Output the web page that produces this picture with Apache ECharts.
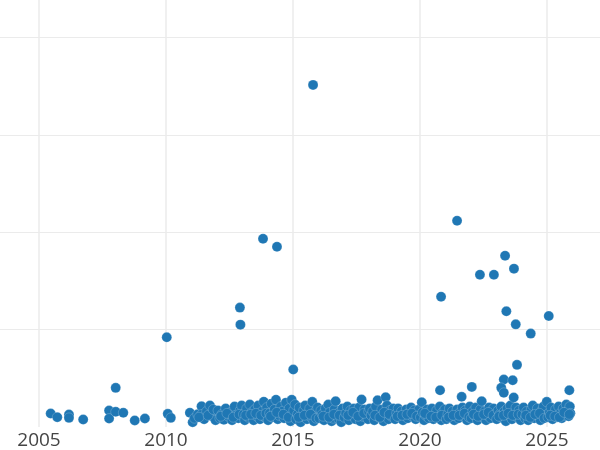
<!DOCTYPE html>
<html><head><meta charset="utf-8">
<script src="https://cdn.jsdelivr.net/npm/echarts@6/dist/echarts.min.js"></script>
<style>html,body{margin:0;padding:0;background:#fff}#c{width:600px;height:450px}</style>
</head><body><div id="c"></div>
<script>
// x ticks (years) and y gridline values (labels hidden in reference)
const xTicks = [2005, 2010, 2015, 2020, 2025];
const yGrid = [100, 200, 300, 400];

// early sparse points [year, value]
const earlyPoints = [[2005.46,13.8],[2005.72,10.1],[2006.18,12.8],[2006.18,9.4],[2006.74,7.7],[2007.76,16.9],[2007.76,8.7],[2008.02,15.6],[2008.32,14.6],[2008.77,6.7],[2009.17,8.7],[2010.07,13.5],[2010.19,9.4],[2010.94,14.6]];

// high outliers [year, value]
const outlierPoints = [[2015.79,351.3],[2021.46,211.8],[2013.82,193.3],[2014.37,185.1],[2023.35,175.9],[2022.36,156.4],[2022.91,156.4],[2023.70,162.6],[2020.83,133.8],[2012.91,122.6],[2012.93,105.1],[2010.03,92.1],[2015.01,59.0],[2023.40,118.8],[2023.77,105.4],[2025.07,114.0],[2024.36,95.9],[2023.82,63.8],[2023.30,48.7],[2023.65,48.0],[2023.20,40.2],[2023.30,35.1],[2020.79,37.7],[2022.04,41.2],[2025.88,37.7],[2021.64,31.0],[2008.02,40.2]];

// dense band 2011-2026 [year, value]
const band2011 = [[2011.05,4.9],[2011.12,9],[2011.25,13],[2011.40,21.3],[2011.40,12.8],[2011.5,8],[2011.6,16],[2011.73,22.1],[2011.8,11],[2011.93,15],[2011.95,7],[2011.3,10],[2011.66,12],[2011.86,18]];
const band2012 = [[2012.05,17],[2012.12,9],[2012.2,13],[2012.28,7.5],[2012.35,19],[2012.45,11],[2012.55,15],[2012.6,7],[2012.7,21],[2012.75,12],[2012.85,9],[2012.92,17],[2012.98,22],[2012.16,11],[2012.4,14],[2012.65,10],[2012.88,13]];
const band2013 = [[2013.05,13],[2013.1,7],[2013.18,19],[2013.25,10],[2013.3,23],[2013.38,15],[2013.45,7],[2013.5,18],[2013.58,11],[2013.63,22],[2013.7,8],[2013.78,16],[2013.85,26],[2013.9,10],[2013.97,20],[2013.14,12],[2013.34,13],[2013.54,14],[2013.74,12],[2013.94,14]];
const band2014 = [[2014.02,7],[2014.08,14],[2014.15,24],[2014.2,10],[2014.27,18],[2014.33,28],[2014.4,8],[2014.45,12],[2014.52,21],[2014.58,16],[2014.65,9],[2014.72,25],[2014.78,13],[2014.85,19],[2014.9,6],[2014.95,28],[2014.98,11],[2014.12,11],[2014.36,15],[2014.62,13],[2014.82,10]];
const band2015 = [[2015.03,17],[2015.08,23],[2015.12,8],[2015.18,13],[2015.25,20],[2015.3,5],[2015.36,11],[2015.42,17],[2015.48,22],[2015.55,8],[2015.6,14],[2015.66,19],[2015.72,10],[2015.76,25.8],[2015.82,6],[2015.88,16],[2015.93,12],[2015.97,20],[2015.22,10],[2015.45,12],[2015.69,13],[2015.91,9]];
const band2016 = [[2016.03,9],[2016.1,17],[2016.15,13],[2016.22,7],[2016.28,19],[2016.35,11],[2016.39,23],[2016.45,15],[2016.52,6],[2016.58,9],[2016.63,18],[2016.68,26.5],[2016.73,12],[2016.8,8],[2016.86,16],[2016.9,5],[2016.95,19],[2016.19,11],[2016.42,10],[2016.61,13],[2016.83,12]];
const band2017 = [[2017.02,10],[2017.08,14],[2017.14,21],[2017.2,7],[2017.27,17],[2017.33,12],[2017.4,19],[2017.46,8],[2017.52,15],[2017.6,20],[2017.65,6],[2017.7,28.2],[2017.75,11],[2017.82,18],[2017.88,13],[2017.95,8],[2017.17,12],[2017.36,15],[2017.56,11],[2017.79,14],[2017.98,16]];
const band2018 = [[2018.02,19],[2018.08,12],[2018.14,16],[2018.2,7],[2018.26,21],[2018.33,27.5],[2018.38,10],[2018.45,14],[2018.5,18],[2018.56,6],[2018.62,13],[2018.65,30.6],[2018.7,22],[2018.76,8],[2018.82,17],[2018.88,11],[2018.95,19],[2018.23,12],[2018.42,10],[2018.59,15],[2018.79,13]];
const band2019 = [[2019.02,8],[2019.08,14],[2019.14,19],[2019.2,10],[2019.27,16],[2019.33,7],[2019.4,13],[2019.46,18],[2019.52,9],[2019.58,15],[2019.65,20],[2019.7,11],[2019.77,17],[2019.83,8],[2019.9,13],[2019.96,18],[2019.11,11],[2019.3,12],[2019.49,13],[2019.68,14],[2019.87,11]];
const band2020 = [[2020.02,10],[2020.07,25.4],[2020.1,15],[2020.16,7],[2020.22,12],[2020.28,18],[2020.35,9],[2020.4,14],[2020.47,19],[2020.53,8],[2020.6,13],[2020.66,17],[2020.73,10],[2020.78,21],[2020.84,7],[2020.89,15],[2020.95,11],[2020.98,18],[2020.19,14],[2020.44,11],[2020.63,10],[2020.86,12]];
const band2021 = [[2021.04,8],[2021.1,13],[2021.16,19],[2021.22,10],[2021.28,16],[2021.35,7],[2021.4,12],[2021.46,18],[2021.52,9],[2021.58,15],[2021.67,20],[2021.72,11],[2021.78,17],[2021.85,7],[2021.9,13],[2021.96,21],[2021.13,10],[2021.31,12],[2021.55,12],[2021.75,14],[2021.93,10]];
const band2022 = [[2022.02,9],[2022.08,16],[2022.14,12],[2022.2,20],[2022.26,7],[2022.32,14],[2022.38,18],[2022.43,26.5],[2022.48,10],[2022.55,16],[2022.6,7],[2022.66,12],[2022.72,20],[2022.78,9],[2022.85,15],[2022.9,19],[2022.96,11],[2022.11,13],[2022.29,11],[2022.51,13],[2022.69,15],[2022.88,12]];
const band2023 = [[2023.02,8],[2023.08,17],[2023.14,13],[2023.2,21],[2023.26,9],[2023.32,16],[2023.38,6],[2023.44,19],[2023.5,12],[2023.56,22],[2023.62,8],[2023.69,30.3],[2023.72,15],[2023.78,20],[2023.84,10],[2023.9,17],[2023.96,7],[2023.11,11],[2023.29,12],[2023.47,14],[2023.65,12],[2023.87,13]];
const band2024 = [[2024.02,13],[2024.08,20],[2024.14,9],[2024.2,16],[2024.26,7],[2024.32,12],[2024.38,18],[2024.44,22],[2024.5,9],[2024.56,14],[2024.62,19],[2024.68,11],[2024.74,7],[2024.8,17],[2024.86,21],[2024.92,12],[2024.99,25.8],[2024.17,12],[2024.35,10],[2024.53,13],[2024.71,14],[2024.89,9]];
const band2025 = [[2025.04,10],[2025.1,15],[2025.16,20],[2025.22,8],[2025.28,13],[2025.34,18],[2025.4,10],[2025.46,21],[2025.52,14],[2025.58,9],[2025.64,19],[2025.7,12],[2025.76,23],[2025.8,16],[2025.85,11],[2025.9,21],[2025.92,14],[2025.13,12],[2025.31,11],[2025.49,10],[2025.67,15],[2025.88,13]];

// visible axis ranges (plot spans the whole canvas)
const xRange = [2003.465, 2027.087];
const yRange = [0, 438.46];

const allPoints = [].concat(earlyPoints, band2011, band2012, band2013, band2014, band2015, band2016,
  band2017, band2018, band2019, band2020, band2021, band2022, band2023, band2024, band2025, outlierPoints);

const chart = echarts.init(document.getElementById('c'), null, {renderer: 'canvas'});
chart.setOption({
  animation: false,
  backgroundColor: '#ffffff',
  grid: {left: 0, right: 0, top: 0, bottom: 22.5, containLabel: false},
  xAxis: {
    type: 'value', min: xRange[0], max: xRange[1], splitNumber: 5,
    axisLine: {show: false}, axisTick: {show: false},
    splitLine: {show: true, showMinLine: false, showMaxLine: false, lineStyle: {color: '#ebebeb', width: 1.5}},
    axisLabel: {
      show: true, showMinLabel: false, showMaxLabel: false,
      color: '#444', fontSize: 19, fontFamily: '"Open Sans", Verdana, sans-serif', margin: 4,
      formatter: v => xTicks.indexOf(v) >= 0 ? String(v) : ''
    }
  },
  yAxis: {
    type: 'value', min: yRange[0], max: yRange[1], splitNumber: 4,
    axisLine: {show: false}, axisTick: {show: false}, axisLabel: {show: false},
    splitLine: {show: true, showMinLine: false, showMaxLine: false, lineStyle: {color: '#ebebeb', width: 1}}
  },
  series: [{
    type: 'scatter',
    data: allPoints,
    symbol: 'circle',
    symbolSize: 10,
    clip: false,
    itemStyle: {color: '#1f77b4', opacity: 1, borderColor: '#ffffff', borderWidth: 0.2},
    emphasis: {disabled: true}
  }]
});
</script></body></html>
